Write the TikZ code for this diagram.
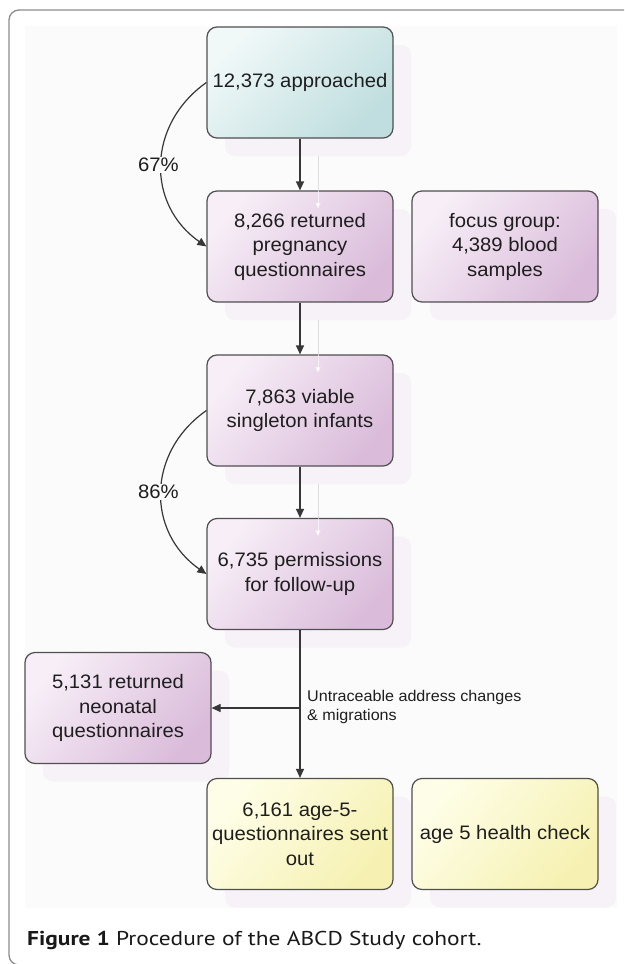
\documentclass[tikz,border=0pt]{standalone}
\usepackage{fontspec}
\setmainfont[FakeStretch=1.04]{Liberation Sans}
\newfontfamily\capfont[FakeStretch=1.17]{PT Sans}
\usetikzlibrary{arrows.meta}
\definecolor{boxline}{RGB}{80,80,80}
\definecolor{linec}{RGB}{55,55,55}
\definecolor{txt}{RGB}{30,30,30}
\definecolor{tealA}{RGB}{240,248,248}
\definecolor{tealB}{RGB}{192,222,223}
\definecolor{purA}{RGB}{247,238,247}
\definecolor{purB}{RGB}{218,188,218}
\definecolor{yelA}{RGB}{254,254,232}
\definecolor{yelB}{RGB}{246,241,178}
\definecolor{shadowc}{RGB}{247,242,247}
\definecolor{panel}{RGB}{251,251,251}
\definecolor{framec}{RGB}{140,140,140}
\definecolor{ghostc}{RGB}{222,222,222}
\tikzset{
  box/.style={draw=boxline, line width=1.2pt, rounded corners=10pt,
    minimum width=186pt, minimum height=111pt, inner sep=0pt, align=center,
    font=\fontsize{19.5}{24.5}\selectfont, text=txt},
  tealbox/.style={box, left color=tealA, right color=tealB, shading angle=45},
  purbox/.style={box, left color=purA, right color=purB, shading angle=50},
  yelbox/.style={box, left color=yelA, right color=yelB, shading angle=50},
  shadowbox/.style={fill=shadowc, rounded corners=10pt, minimum width=186pt,
    minimum height=111pt, inner sep=0pt},
  conn/.style={draw=linec, line width=1.2pt, -{Triangle[length=9pt,width=8pt]}},
  ghost/.style={draw=ghostc, line width=1pt},
  ghostin/.style={draw=white, draw opacity=0.6, line width=1pt, -{Triangle[length=6pt,width=5pt]}},
  pct/.style={fill=panel, inner sep=1pt, font=\fontsize{19.5}{24}\selectfont, text=txt},
  note/.style={align=left, inner sep=0pt, font=\fontsize{15.5}{19}\selectfont, text=txt},
}
\begin{document}
\begin{tikzpicture}[x=1pt,y=-1pt]
\useasboundingbox (0,0) rectangle (624,964);
% frame and panel
\begin{scope}
  \clip (0,0) rectangle (624,964);
  \fill[white] (0,0) rectangle (624,964);
  \draw[framec, line width=1.3pt, rounded corners=10pt] (9,10) rectangle (660,965);
\end{scope}
\fill[panel] (25,26) rectangle (617,908);
% shadows
\node[shadowbox] (s1) at (318,100.5) {};
\node[shadowbox] (s2) at (318,264.5) {};
\node[shadowbox] (s2b) at (523,264.5) {};
\node[shadowbox] (s3) at (318,428.5) {};
\node[shadowbox] (s4) at (318,592) {};
\node[shadowbox] (s5) at (136,726) {};
\node[shadowbox] (s6) at (318,852) {};
\node[shadowbox] (s7) at (523,852) {};
\draw[ghost] (s1.south) -- (s2.north);
\draw[ghost] (s2.south) -- (s3.north);
\draw[ghost] (s3.south) -- (s4.north);
% boxes
\node[tealbox] (n1) at (300,82.5) {12,373 approached};
\node[purbox] (n2) at (300,246.5) {8,266 returned\\pregnancy\\questionnaires};
\node[purbox] (fg) at (505,246.5) {focus group:\\4,389 blood\\samples};
\node[purbox] (n3) at (300,410.5) {7,863 viable\\singleton infants};
\node[purbox] (n4) at (300,574) {6,735 permissions\\for follow-up};
\node[purbox] (n5) at (118,708) {5,131 returned\\neonatal\\questionnaires};
\node[yelbox] (n6) at (300,834) {6,161 age-5-\\questionnaires sent\\out};
\node[yelbox] (n7) at (505,834) {age 5 health check};
% faint shadow arrow ends showing through the boxes
\draw[ghostin] (n2.north -| s2.north) -- (s2.north);
\draw[ghostin] (n3.north -| s3.north) -- (s3.north);
\draw[ghostin] (n4.north -| s4.north) -- (s4.north);
% connectors
\draw[conn] (n1.south) -- (n2.north);
\draw[conn] (n2.south) -- (n3.north);
\draw[conn] (n3.south) -- (n4.north);
\draw[conn] (n4.south) -- (n6.north);
\coordinate (br) at (n4.south |- n5.east);
\draw[conn] (br) -- (n5.east);
\node[note, anchor=west] (lbl) at (307,706.5) {Untraceable address changes\\\& migrations};
\draw[conn] (n1.west) .. controls +(-60,42.5) and +(-60,-41.5) .. (n2.west)
  node[pct, pos=0.5, xshift=-3pt] (p1) {67\%};
\draw[conn] (n3.west) .. controls +(-60,42) and +(-60,-42) .. (n4.west)
  node[pct, pos=0.5, xshift=-3pt] (p2) {86\%};
% caption
\node[anchor=west, inner sep=0pt, font=\capfont\fontsize{20}{24}\selectfont, text=black!90] (cap) at (27,940)
  {\textbf{Figure 1} Procedure of the ABCD Study cohort.};
\end{tikzpicture}
\end{document}
